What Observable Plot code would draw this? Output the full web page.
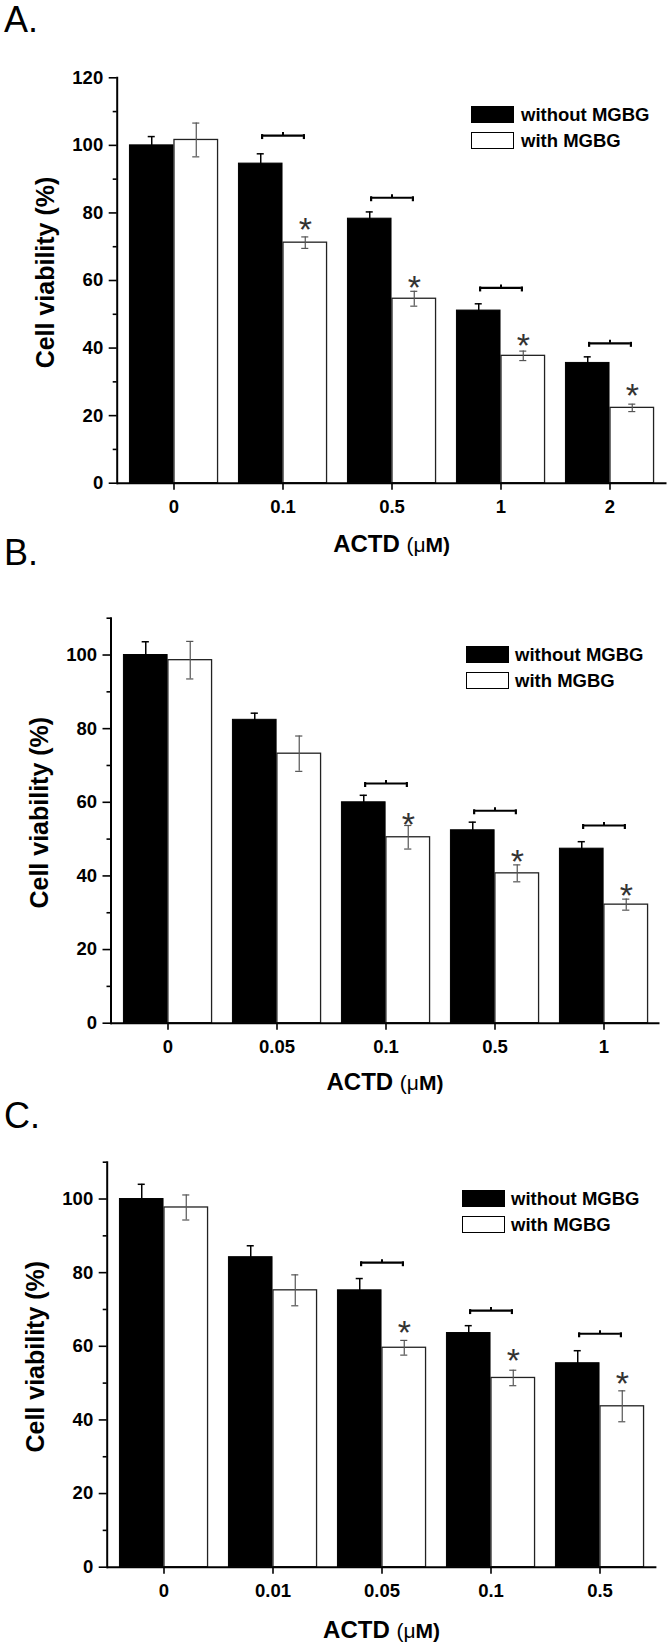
<!DOCTYPE html>
<html>
<head>
<meta charset="utf-8">
<script src="https://cdn.jsdelivr.net/npm/d3@7"></script>
<script src="https://cdn.jsdelivr.net/npm/@observablehq/plot@0.6"></script>
<style>
  body { margin: 0; background: #fff; }
  #wrap { position: relative; width: 672px; height: 1646px; overflow: hidden; font-family: "Liberation Sans", Arial, sans-serif; color: #000; }
  .abs { position: absolute; }
  .panel svg { display: block; }
  .letter { font-size: 36px; line-height: 36px; font-weight: normal; }
  .xlab { font-size: 24px; line-height: 24px; font-weight: bold; white-space: nowrap; transform: translateX(-50%); }
  .xlab .u { font-size: 21px; }
  .xlab .n { font-weight: normal; }
  .sw { position: absolute; width: 43px; height: 17px; box-sizing: border-box; border: 1px solid #000; }
  .lt { position: absolute; font-size: 18.5px; line-height: 17px; height: 17px; font-weight: bold; white-space: nowrap; }
</style>
</head>
<body>
<div id="wrap"></div>
<script>
// ---------- Panel A ----------
const concA = ["0", "0.1", "0.5", "1", "2"];
const withoutA = [100, 94.6, 78.3, 51.1, 35.6];
const withoutErrA = [2.6, 2.9, 2.0, 2.0, 1.8];
const withA = [101.6, 71.2, 54.6, 37.7, 22.3];
const withErrA = [5.0, 1.7, 2.2, 1.4, 1.1];
const bracketA = [null, 102.9, 84.5, 57.8, 41.4];
const starA = [null, 78.8, 61.8, 44.5, 29.8];
const yTicksA = [0, 20, 40, 60, 80, 100, 120];
const yMinorA = [10, 30, 50, 70, 90, 110];

// ---------- Panel B ----------
const concB = ["0", "0.05", "0.1", "0.5", "1"];
const withoutB = [100, 82.4, 60.0, 52.4, 47.4];
const withoutErrB = [3.6, 1.8, 1.9, 2.2, 1.9];
const withB = [98.6, 73.2, 50.5, 40.7, 32.2];
const withErrB = [5.1, 4.8, 3.2, 2.3, 1.5];
const bracketB = [null, null, 65.1, 57.7, 53.7];
const starB = [null, null, 57.5, 47.3, 38.0];
const yTicksB = [0, 20, 40, 60, 80, 100];
const yMinorB = [10, 30, 50, 70, 90, 110];

// ---------- Panel C ----------
const concC = ["0", "0.01", "0.05", "0.1", "0.5"];
const withoutC = [100, 84.2, 75.2, 63.6, 55.4];
const withoutErrC = [4.0, 3.1, 3.2, 2.0, 3.4];
const withC = [97.7, 75.2, 59.6, 51.4, 43.7];
const withErrC = [3.4, 4.2, 2.0, 2.1, 4.2];
const bracketC = [null, null, 82.7, 69.7, 63.4];
const starC = [null, null, 67.2, 59.6, 53.4];
const yTicksC = [0, 20, 40, 60, 80, 100];
const yMinorC = [10, 30, 50, 70, 90, 110];

const seriesNames = ["without MGBG", "with MGBG"];
const panelLetters = ["A.", "B.", "C."];
const yLabel = "Cell viability (%)";

const FONT = '"Liberation Sans", Arial, sans-serif';
const W = 672;

function makePanel(cfg) {
  const {conc, without, withoutErr, withv, withErr, bracket, star, yMax, yTicks, yMinor,
         height, ml, mr, mt, mb} = cfg;
  const rows = conc.map((c, i) => ({
    c, a: without[i], aE: withoutErr[i], b: withv[i], bE: withErr[i], br: bracket[i], st: star[i]
  }));
  const sig = rows.filter(d => d.br != null);
  const bw = (W - ml - mr) / conc.length;
  const pad = 0.095 * bw, half = 0.5 * bw, off = 0.2025 * bw, cap = 4;
  const brIn = 0.31 * bw, brEnd = 0.19 * bw;

  return Plot.plot({
    width: W, height,
    marginLeft: ml, marginRight: mr, marginTop: mt, marginBottom: mb,
    style: {background: "transparent", fontFamily: FONT, fontSize: "18px", fontWeight: "bold", color: "#000"},
    x: {type: "band", domain: conc, padding: 0},
    y: {domain: [0, yMax]},
    marks: [
      // bars
      Plot.barY(rows, {x: "c", y: "a", fill: "#000", stroke: "#000", strokeWidth: 1, insetLeft: pad, insetRight: half}),
      Plot.barY(rows, {x: "c", y: "b", fill: "#fff", stroke: "#222", strokeWidth: 1.3, insetLeft: half, insetRight: pad}),
      // error bars, without MGBG
      Plot.ruleX(rows, {x: "c", y1: d => d.a - d.aE, y2: d => d.a + d.aE, dx: -off, stroke: "#000", strokeWidth: 1.5}),
      Plot.tickY(rows, {x: "c", y: d => d.a + d.aE, insetLeft: half - off - cap, insetRight: half + off - cap, stroke: "#000", strokeWidth: 1.5}),
      // error bars, with MGBG
      Plot.ruleX(rows, {x: "c", y1: d => d.b - d.bE, y2: d => d.b + d.bE, dx: off, stroke: "#555", strokeWidth: 1.2}),
      Plot.tickY(rows, {x: "c", y: d => d.b + d.bE, insetLeft: half + off - cap, insetRight: half - off - cap, stroke: "#555", strokeWidth: 1.2}),
      Plot.tickY(rows, {x: "c", y: d => d.b - d.bE, insetLeft: half + off - cap, insetRight: half - off - cap, stroke: "#555", strokeWidth: 1.2}),
      // significance braces
      Plot.tickY(sig, {x: "c", y: "br", insetLeft: brIn, insetRight: brIn, stroke: "#000", strokeWidth: 2.2}),
      Plot.ruleX(sig, {x: "c", y1: "br", y2: "br", dx: -brEnd, insetTop: -1, insetBottom: -4, stroke: "#000", strokeWidth: 2.2}),
      Plot.ruleX(sig, {x: "c", y1: "br", y2: "br", dx: brEnd, insetTop: -1, insetBottom: -4, stroke: "#000", strokeWidth: 2.2}),
      Plot.ruleX(sig, {x: "c", y1: "br", y2: "br", insetTop: -3, stroke: "#000", strokeWidth: 2}),
      // asterisks
      Plot.text(sig, {x: "c", y: "st", text: () => "*", dx: off, lineAnchor: "top", fontSize: 34, fontWeight: "normal", fill: "#333"}),
      // axes
      Plot.ruleY([0], {stroke: "#000", strokeWidth: 2}),
      Plot.frame({anchor: "left", stroke: "#000", strokeWidth: 2}),
      Plot.axisX({tickSize: 7, tickPadding: 10, fontSize: 18.5, fontWeight: "bold", label: null, strokeWidth: 1.6}),
      Plot.axisY(yTicks, {tickSize: 8, tickPadding: 6, fontSize: 18.5, fontWeight: "bold", label: null, strokeWidth: 1.6}),
      Plot.axisY(yMinor, {tickSize: 4, tickFormat: () => "", label: null, strokeWidth: 1.6}),
      Plot.text([yLabel], {frameAnchor: "left", rotate: -90, dx: -71, dy: -8, textAnchor: "middle", lineAnchor: "middle", fontSize: 25, fontWeight: "bold", fill: "#000"})
    ]
  });
}

const panels = [
  {conc: concA, without: withoutA, withoutErr: withoutErrA, withv: withA, withErr: withErrA,
   bracket: bracketA, star: starA, yMax: 120, yTicks: yTicksA, yMinor: yMinorA,
   top: 0, height: 570, ml: 116.7, mr: 5.5, mt: 77.3, mb: 87.3,
   letterTop: 1.8, xlabTop: 531.7, legBox: 471, legText: 521, legTop: 106},
  {conc: concB, without: withoutB, withoutErr: withoutErrB, withv: withB, withErr: withErrB,
   bracket: bracketB, star: starB, yMax: 110, yTicks: yTicksB, yMinor: yMinorB,
   top: 580, height: 530, ml: 110.5, mr: 12.5, mt: 37.7, mb: 87.3,
   letterTop: 534.5, xlabTop: 1069.7, legBox: 466, legText: 515, legTop: 646},
  {conc: concC, without: withoutC, withoutErr: withoutErrC, withv: withC, withErr: withErrC,
   bracket: bracketC, star: starC, yMax: 110, yTicks: yTicksC, yMinor: yMinorC,
   top: 1120, height: 526, ml: 106.7, mr: 15.6, mt: 41.7, mb: 79.3,
   letterTop: 1097.8, xlabTop: 1617.7, legBox: 462, legText: 511, legTop: 1190}
];

const wrap = document.getElementById("wrap");
panels.forEach((p, k) => {
  const holder = document.createElement("div");
  holder.className = "abs panel";
  holder.style.left = "0px";
  holder.style.top = p.top + "px";
  holder.appendChild(makePanel(p));
  wrap.appendChild(holder);

  const letter = document.createElement("div");
  letter.className = "abs letter";
  letter.style.left = "4px";
  letter.style.top = p.letterTop + "px";
  letter.textContent = panelLetters[k];
  wrap.appendChild(letter);

  const xl = document.createElement("div");
  xl.className = "abs xlab";
  const bwPx = (W - p.ml - p.mr);
  xl.style.left = (p.ml + bwPx / 2) + "px";
  xl.style.top = p.xlabTop + "px";
  xl.innerHTML = 'ACTD <span class="u"><span class="n">(\u03bc</span>M)</span>';
  wrap.appendChild(xl);

  seriesNames.forEach((name, j) => {
    const sw = document.createElement("div");
    sw.className = "sw";
    sw.style.left = p.legBox + "px";
    sw.style.top = (p.legTop + j * 26.3) + "px";
    sw.style.background = j === 0 ? "#000" : "#fff";
    wrap.appendChild(sw);
    const t = document.createElement("div");
    t.className = "lt";
    t.style.left = p.legText + "px";
    t.style.top = (p.legTop + j * 26.3) + "px";
    t.textContent = name;
    wrap.appendChild(t);
  });
});
</script>
</body>
</html>
